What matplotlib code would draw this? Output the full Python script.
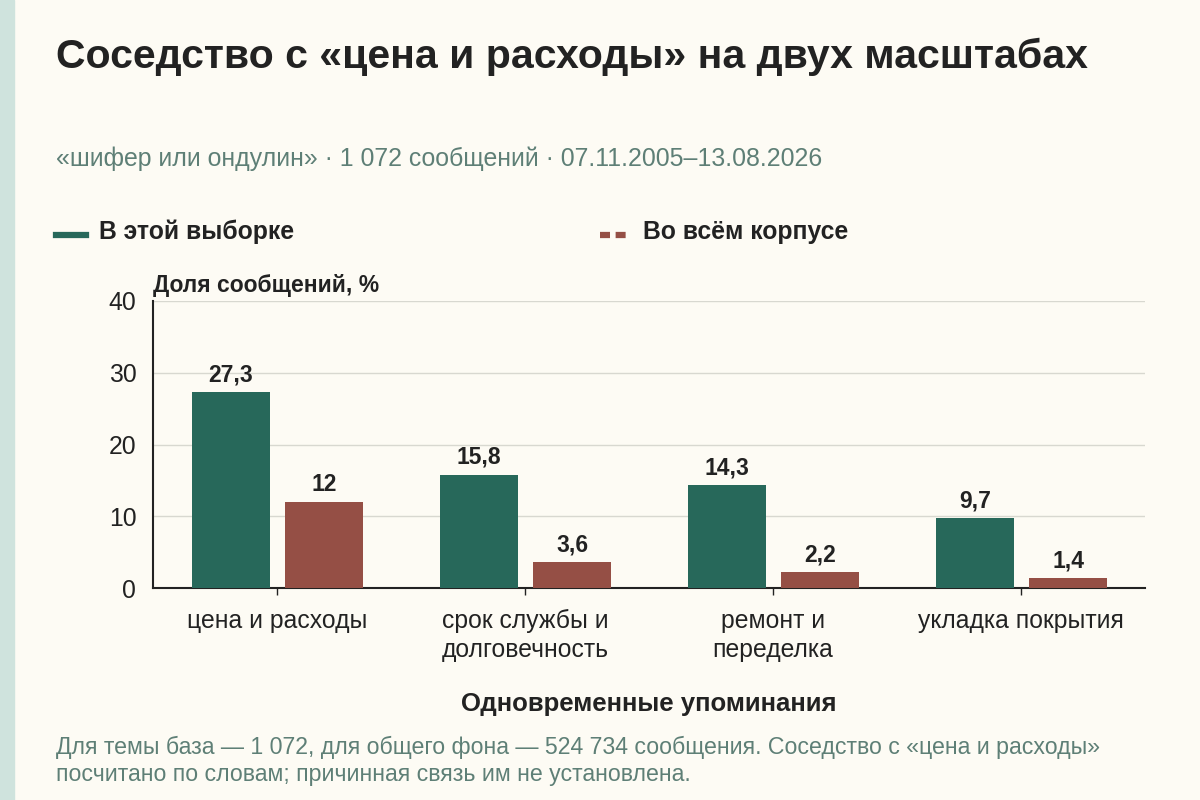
import matplotlib
matplotlib.use("Agg")
import matplotlib.pyplot as plt
import numpy as np

plt.rcParams['font.family'] = ['Liberation Sans', 'DejaVu Sans']

# data
categories = ["цена и расходы", "срок службы и\nдолговечность", "ремонт и\nпеределка", "укладка покрытия"]
sample_vals = [27.3, 15.8, 14.3, 9.7]
corpus_vals = [12, 3.6, 2.2, 1.4]
sample_labels = ["27,3", "15,8", "14,3", "9,7"]
corpus_labels = ["12", "3,6", "2,2", "1,4"]
yticks = [0, 10, 20, 30, 40]

bg = "#FDFBF4"
green = "#27685A"
red = "#954F45"
dark = "#222222"
muted = "#5E7F76"

fig = plt.figure(figsize=(12, 8), dpi=100)
fig.patch.set_facecolor(bg)
# left strip
fig.add_artist(plt.Rectangle((0, 0), 14 / 1200, 1, transform=fig.transFigure,
                             color="#CFE3DD", zorder=0))

ax = fig.add_axes([153 / 1200, 212 / 800, 992 / 1200, 287 / 800])
ax.set_facecolor(bg)

x = np.arange(len(categories))
w = 0.315
b1 = ax.bar(x - 0.186, sample_vals, w, color=green, zorder=3)
b2 = ax.bar(x + 0.19, corpus_vals, w, color=red, zorder=3)
for rect, lab in zip(b1, sample_labels):
    ax.text(rect.get_x() + rect.get_width() / 2, rect.get_height() + 0.8, lab,
            ha="center", va="bottom", fontsize=16.5, fontweight="bold", color=dark)
for rect, lab in zip(b2, corpus_labels):
    ax.text(rect.get_x() + rect.get_width() / 2, rect.get_height() + 0.8, lab,
            ha="center", va="bottom", fontsize=16.5, fontweight="bold", color=dark)

ax.set_xlim(-0.5, 3.5)
ax.set_ylim(0, 40)
ax.set_yticks(yticks)
ax.set_xticks(x)
ax.set_xticklabels(categories, fontsize=17.8, color=dark, linespacing=1.25)
ax.tick_params(axis="y", length=0, labelsize=17.8, labelcolor=dark, pad=12)
ax.tick_params(axis="x", length=5, width=1, color=dark, pad=10)
ax.grid(axis="y", color="#D8D8D0", linewidth=1, zorder=0)
for s in ["top", "right"]:
    ax.spines[s].set_visible(False)
ax.spines["left"].set_color(dark)
ax.spines["bottom"].set_color(dark)
ax.spines["left"].set_linewidth(1.5)
ax.spines["bottom"].set_linewidth(1.5)

ax.text(0, 1.015, "Доля сообщений, %", transform=ax.transAxes, ha="left", va="bottom",
        fontsize=16.5, fontweight="bold", color=dark)
ax.set_xlabel("Одновременные упоминания", fontsize=18.5, fontweight="bold", color=dark, labelpad=22)

fig.text(56 / 1200, 1 - 57 / 800, "Соседство с «цена и расходы» на двух масштабах",
         fontsize=29.5, fontweight="bold", color=dark, va="center")
fig.text(56 / 1200, 1 - 159 / 800, "«шифер или ондулин» · 1 072 сообщений · 07.11.2005–13.08.2026",
         fontsize=17.9, color=muted, va="center")

# legend
fig.add_artist(plt.Line2D([56 / 1200, 86 / 1200], [1 - 235 / 800] * 2, color=green, linewidth=4.5))
fig.text(99 / 1200, 1 - 232 / 800, "В этой выборке", fontsize=17.8, fontweight="bold", color=dark, va="center")
fig.add_artist(plt.Line2D([600 / 1200, 631 / 1200], [1 - 235 / 800] * 2, color=red, linewidth=4.5,
                          linestyle=(0, (1.6, 0.9))))
fig.text(643 / 1200, 1 - 232 / 800, "Во всём корпусе", fontsize=17.8, fontweight="bold", color=dark, va="center")

fig.text(56 / 1200, 1 - 761 / 800,
         "Для темы база — 1 072, для общего фона — 524 734 сообщения. Соседство с «цена и расходы»\n"
         "посчитано по словам; причинная связь им не установлена.",
         fontsize=16.7, color=muted, va="center", linespacing=1.2)

fig.savefig("out.png", dpi=100, facecolor=bg)
